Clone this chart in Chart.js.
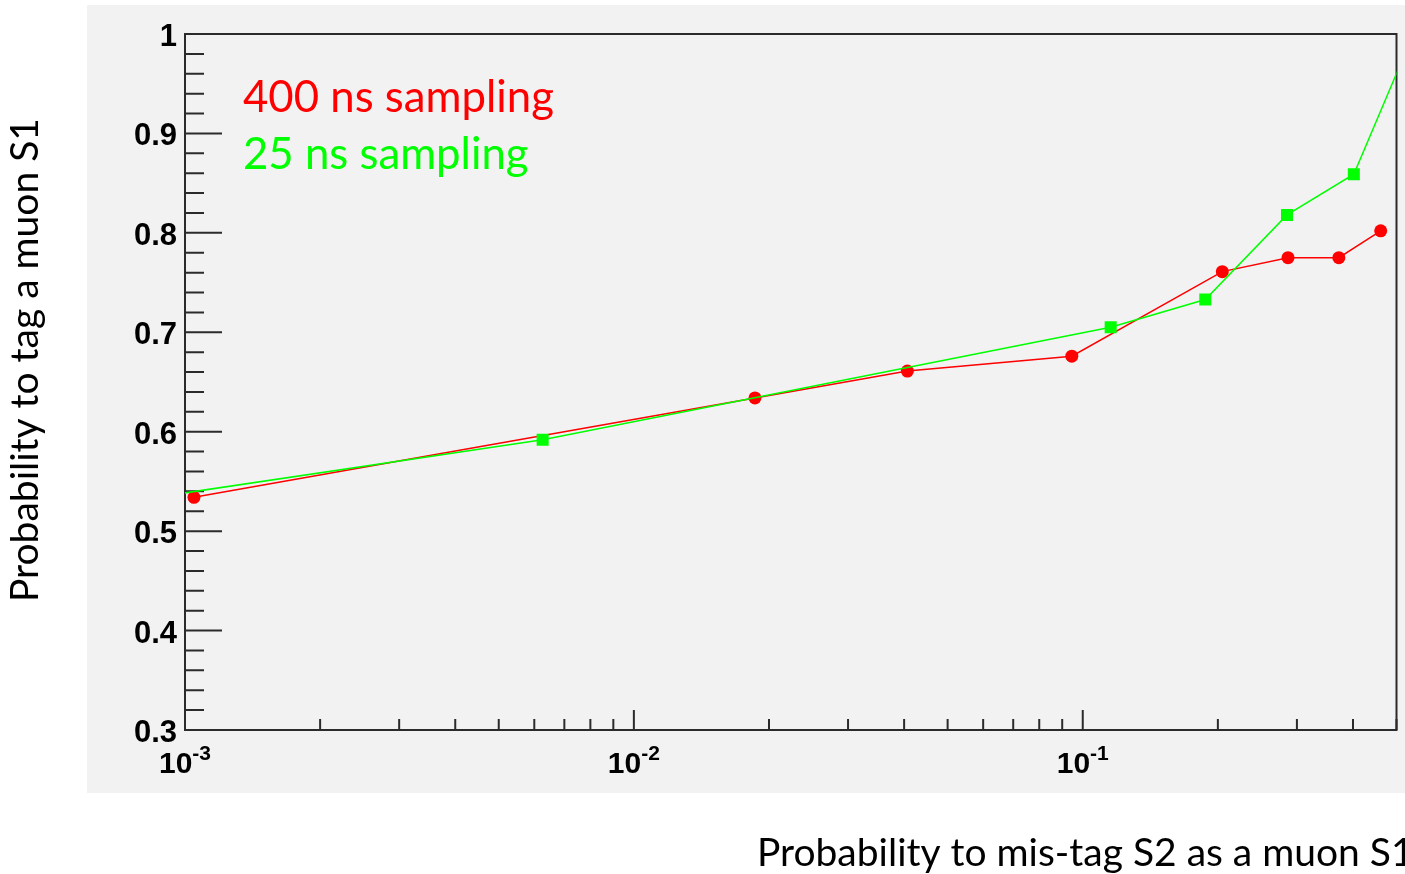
<!DOCTYPE html>
<html>
<head>
<meta charset="utf-8">
<script src="https://cdn.jsdelivr.net/npm/chart.js@4.4.1/dist/chart.umd.min.js"></script>
<style>
  html, body { margin: 0; background: #ffffff; overflow: hidden; }
  #wrap { position: relative; width: 1405px; height: 874px; }
  #rocChart { display: block; }
</style>
</head>
<body>
<div id="wrap"><canvas id="rocChart"></canvas></div>
<script>
// 400 ns sampling (red circles)
const redX = [0.001047, 0.01861, 0.04067, 0.09454, 0.2046, 0.2866, 0.3720, 0.4611];
const redY = [0.534, 0.634, 0.661, 0.676, 0.761, 0.775, 0.775, 0.802];
// 25 ns sampling (green squares), first and last points lie outside the frame
const greenX = [0.00095, 0.006263, 0.1154, 0.1875, 0.2851, 0.4017, 0.545];
const greenY = [0.537, 0.592, 0.705, 0.733, 0.818, 0.859, 1.0];

const yTicks = [0.3, 0.4, 0.5, 0.6, 0.7, 0.8, 0.9, 1.0];
const yTickLabels = ["0.3", "0.4", "0.5", "0.6", "0.7", "0.8", "0.9", "1"];
const xDecades = [0.001, 0.01, 0.1];
const xExponents = ["-3", "-2", "-1"];

const legendLabels = ["400 ns sampling", "25 ns sampling"];
const xTitle = "Probability to mis-tag S2 as a muon S1";
const yTitle = "Probability to tag a muon S1";

const RED = "#ff0000";
const GREEN = "#00ff00";
const AXIS = "#2b2b2b";
const LABEL_FONT = "'Liberation Sans', Arial, sans-serif";

function toPoints(xs, ys) {
    return xs.map((x, i) => ({ x: x, y: ys[i] }));
}

function fitSize(ctx, text, font, width) {
    ctx.font = "100px " + font;
    return 100 * width / ctx.measureText(text).width;
}

const rootStyle = {
    id: "rootStyle",
    beforeDraw(chart) {
        const ctx = chart.ctx;
        ctx.save();
        ctx.fillStyle = "#ffffff";
        ctx.fillRect(0, 0, chart.width, chart.height);
        ctx.fillStyle = "#f2f2f2";
        ctx.fillRect(87, 5, 1318, 788);
        ctx.restore();
    },
    beforeDatasetsDraw(chart) {
        const ctx = chart.ctx;
        const a = chart.chartArea;
        const xs = chart.scales.x;
        const ys = chart.scales.y;
        ctx.save();
        ctx.strokeStyle = AXIS;
        ctx.lineWidth = 2;
        ctx.strokeRect(a.left, a.top, a.right - a.left, a.bottom - a.top);

        // y ticks, inside the frame
        ctx.beginPath();
        for (let i = 0; i < yTicks.length; i++) {
            const yp = ys.getPixelForValue(yTicks[i]);
            ctx.moveTo(a.left, yp);
            ctx.lineTo(a.left + 37, yp);
            if (i < yTicks.length - 1) {
                for (let k = 1; k < 5; k++) {
                    const ym = ys.getPixelForValue(yTicks[i] + k * 0.02);
                    ctx.moveTo(a.left, ym);
                    ctx.lineTo(a.left + 19, ym);
                }
            }
        }
        // x ticks
        xDecades.forEach(d => {
            const xp = xs.getPixelForValue(d);
            ctx.moveTo(xp, a.bottom);
            ctx.lineTo(xp, a.bottom - 20);
            for (let k = 2; k < 10; k++) {
                const v = d * k;
                if (v > xs.max) break;
                const xm = xs.getPixelForValue(v);
                ctx.moveTo(xm, a.bottom);
                ctx.lineTo(xm, a.bottom - 11);
            }
        });
        ctx.stroke();

        // tick labels
        ctx.fillStyle = "#000000";
        ctx.font = "bold 31px " + LABEL_FONT;
        ctx.textAlign = "right";
        ctx.textBaseline = "alphabetic";
        yTicks.forEach((v, i) => {
            ctx.fillText(yTickLabels[i], 177, ys.getPixelForValue(v) + 12);
        });
        ctx.textAlign = "left";
        xDecades.forEach((d, i) => {
            const xp = xs.getPixelForValue(d);
            ctx.font = "bold 30px " + LABEL_FONT;
            const w1 = ctx.measureText("10").width;
            ctx.font = "bold 21px " + LABEL_FONT;
            const w2 = ctx.measureText(xExponents[i]).width;
            const start = xp - (w1 + w2) / 2;
            ctx.font = "bold 30px " + LABEL_FONT;
            ctx.fillText("10", start, a.bottom + 43);
            ctx.font = "bold 21px " + LABEL_FONT;
            ctx.fillText(xExponents[i], start + w1, a.bottom + 30);
        });
        ctx.restore();
    },
    afterDraw(chart) {
        const ctx = chart.ctx;
        ctx.save();
        ctx.textBaseline = "alphabetic";
        ctx.textAlign = "left";
        const legSize = fitSize(ctx, legendLabels[0], "Lato, sans-serif", 311);
        ctx.font = legSize + "px Lato, sans-serif";
        ctx.fillStyle = RED;
        ctx.fillText(legendLabels[0], 243, 112);
        ctx.fillStyle = GREEN;
        ctx.fillText(legendLabels[1], 243, 169);

        const titleSize = fitSize(ctx, yTitle, "Lato, sans-serif", 484);
        ctx.font = titleSize + "px Lato, sans-serif";
        ctx.fillStyle = "#000000";
        ctx.fillText(xTitle, 757, 866);
        ctx.translate(38, 360);
        ctx.rotate(-Math.PI / 2);
        ctx.textAlign = "center";
        ctx.fillText(yTitle, 0, 0);
        ctx.restore();
    }
};

const ctx = document.getElementById("rocChart").getContext("2d");
new Chart(ctx, {
    type: "line",
    data: {
        datasets: [
            {
                label: legendLabels[1],
                data: toPoints(greenX, greenY),
                borderColor: GREEN,
                backgroundColor: GREEN,
                borderWidth: 1.5,
                pointStyle: "rect",
                pointRadius: 8.5,
                pointBorderWidth: 0,
                tension: 0,
                clip: 0
            },
            {
                label: legendLabels[0],
                data: toPoints(redX, redY),
                borderColor: RED,
                backgroundColor: RED,
                borderWidth: 1.5,
                pointStyle: "circle",
                pointRadius: 6.5,
                pointBorderWidth: 0,
                tension: 0,
                clip: 0
            }
        ]
    },
    options: {
        responsive: true,
        maintainAspectRatio: false,
        animation: false,
        layout: { padding: { left: 185, right: 5, top: 34, bottom: 144 } },
        plugins: {
            legend: { display: false },
            title: { display: false },
            tooltip: { enabled: false }
        },
        scales: {
            x: { type: "logarithmic", min: 0.001, max: 0.5, display: false },
            y: { type: "linear", min: 0.3, max: 1.0, display: false }
        }
    },
    plugins: [rootStyle]
});
</script>
</body>
</html>
